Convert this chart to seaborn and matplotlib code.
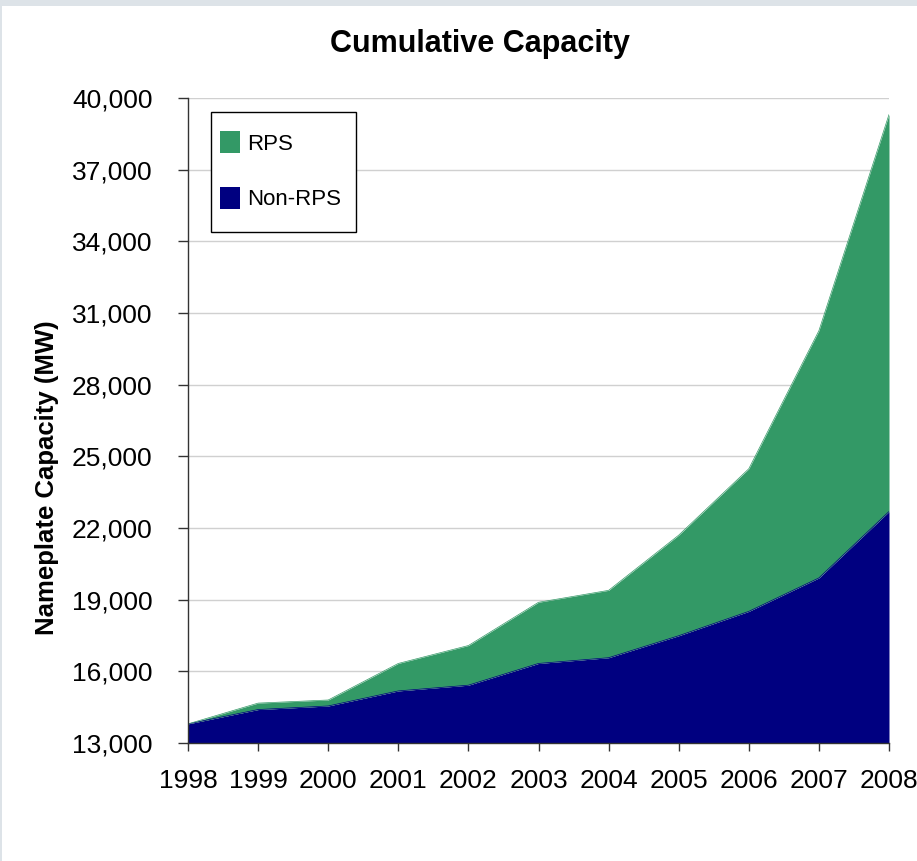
import matplotlib
matplotlib.use("Agg")
import matplotlib.pyplot as plt
from matplotlib.patches import Patch, Rectangle
from matplotlib.ticker import FuncFormatter
import numpy as np
import pandas as pd
import seaborn as sns

# ---- data ----
years = [1998, 1999, 2000, 2001, 2002, 2003, 2004, 2005, 2006, 2007, 2008]
non_rps = [13800, 14400, 14550, 15180, 15420, 16330, 16570, 17490, 18510, 19910, 22690]
rps = [0, 270, 250, 1150, 1660, 2560, 2820, 4210, 5970, 10350, 16620]
series_names = ["RPS", "Non-RPS"]
y_ticks = [13000, 16000, 19000, 22000, 25000, 28000, 31000, 34000, 37000, 40000]

GREEN = "#339966"
NAVY = "#000080"

sns.set_theme(style="white")
plt.rcParams["font.family"] = ["Liberation Sans", "DejaVu Sans"]

df = pd.DataFrame({"year": years, "Non-RPS": non_rps, "RPS": rps})
df["total"] = df["Non-RPS"] + df["RPS"]

fig = plt.figure(figsize=(9.17, 8.61), dpi=100)
fig.patch.set_facecolor("white")
# light frame band of the original slide
fig.patches.append(Rectangle((0, 1 - 6 / 861), 1, 6 / 861, transform=fig.transFigure,
                             facecolor="#dde3e8", edgecolor="none", zorder=0))
fig.patches.append(Rectangle((0, 0), 2 / 917, 1, transform=fig.transFigure,
                             facecolor="#dde3e8", edgecolor="none", zorder=0))

ax = fig.add_axes([188 / 917, 1 - 743 / 861, (889 - 188) / 917, (743 - 98) / 861])

ax.stackplot(df["year"], df["Non-RPS"], df["RPS"], colors=[NAVY, GREEN],
             baseline="zero", linewidth=0, zorder=2)
ax.set_ylim(13000, 40000)
ax.set_xlim(1998, 2008)
# edge lines through seaborn
sns.lineplot(data=df, x="year", y="Non-RPS", ax=ax, color=NAVY, linewidth=0.5, zorder=3)
sns.lineplot(data=df, x="year", y="total", ax=ax, color=GREEN, linewidth=0.5, zorder=3)

ax.set_yticks(y_ticks)
ax.yaxis.set_major_formatter(FuncFormatter(lambda v, p: f"{int(v):,}"))
ax.set_xticks(years)
ax.set_xticklabels([str(y) for y in years])
ax.set_xlabel("")
ax.set_ylabel("")

ax.grid(axis="y", color="#d0d0d0", linewidth=1.0)
ax.grid(axis="x", visible=False)
ax.set_axisbelow(True)

for s in ["top", "right"]:
    ax.spines[s].set_visible(False)
for s in ["left", "bottom"]:
    ax.spines[s].set_color("#333333")
    ax.spines[s].set_linewidth(1.0)
    ax.spines[s].set_zorder(4)

ax.tick_params(axis="y", which="major", direction="out", length=7, width=1,
               color="#333333", pad=18.5, labelsize=19, labelcolor="black", left=True)
ax.tick_params(axis="x", which="major", direction="out", length=6, width=1,
               color="#333333", pad=13, labelsize=19, labelcolor="black", bottom=True)

# titles
fig.text(480 / 917, 1 - 44 / 861, "Cumulative Capacity", ha="center", va="center",
         fontsize=22, fontweight="bold", color="black")
fig.text(47 / 917, 1 - 478 / 861, "Nameplate Capacity (MW)", ha="center", va="center",
         rotation=90, fontsize=18.5, fontweight="bold", color="black")

# legend frame
ax.add_patch(Rectangle((23 / 701, (743 - 232) / 645), 145 / 701, 120 / 645,
                       transform=ax.transAxes, facecolor="white", edgecolor="black",
                       linewidth=1.0, zorder=5))
handles = [Patch(facecolor=GREEN, edgecolor="none"), Patch(facecolor=NAVY, edgecolor="none")]
leg = ax.legend(handles, series_names, loc="upper left",
                bbox_to_anchor=(32 / 701, (743 - 131) / 645), borderaxespad=0,
                frameon=False, fontsize=16, handlelength=0.9, handleheight=1.15,
                handletextpad=0.3, labelspacing=1.45, borderpad=0, labelcolor="black")
leg.set_zorder(6)

fig.savefig("out.png", dpi=100, facecolor=fig.get_facecolor())
